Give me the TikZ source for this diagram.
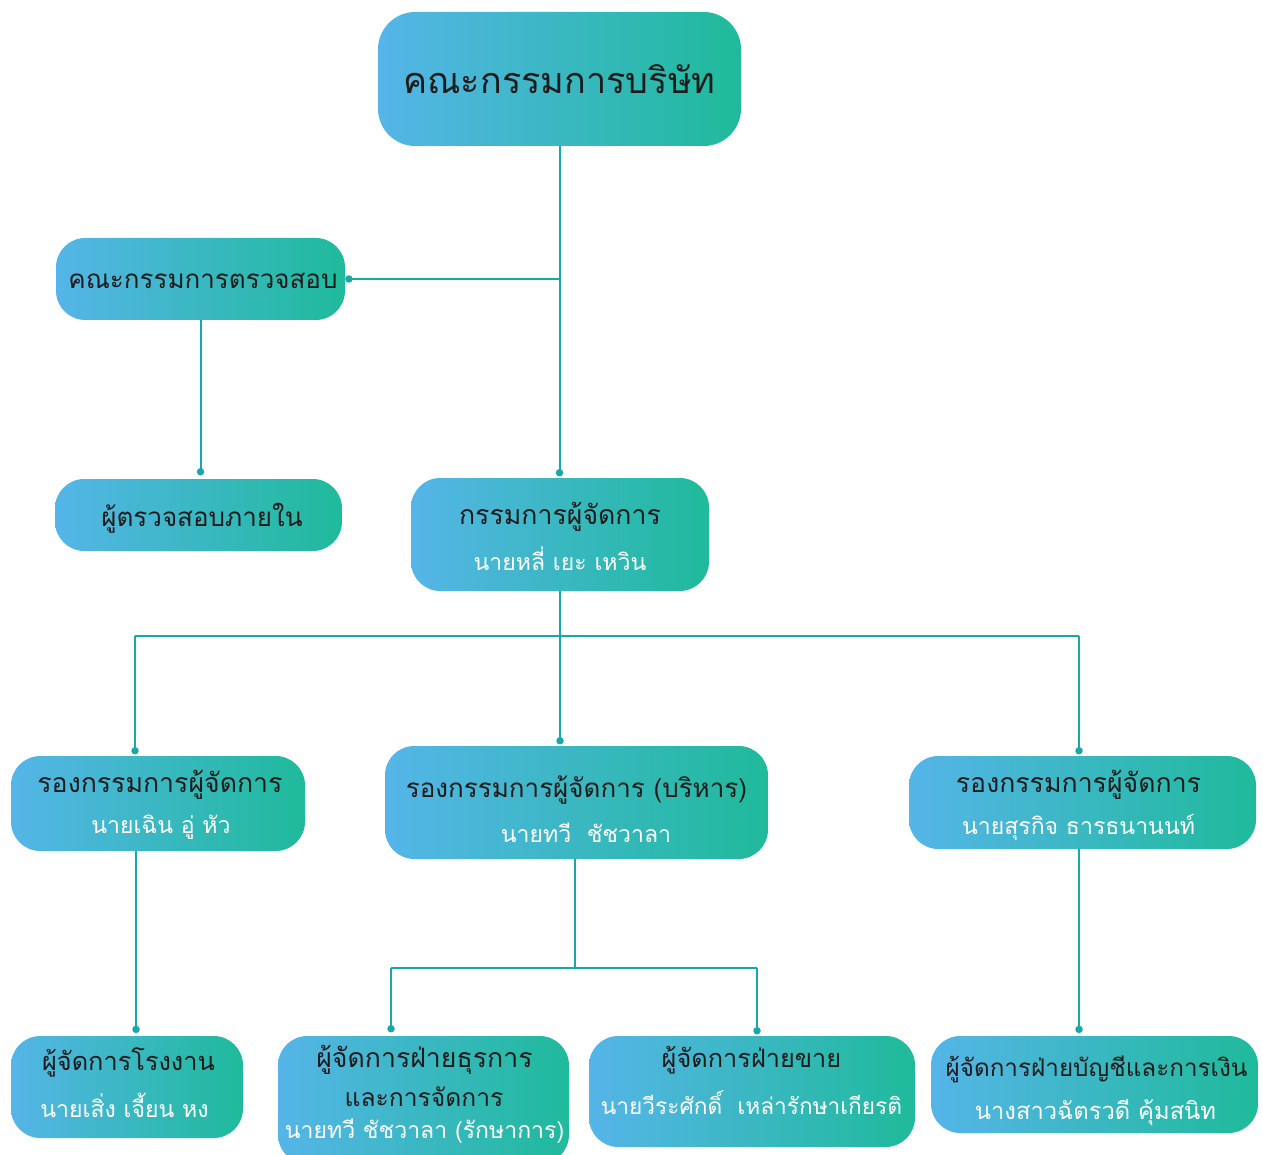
\documentclass[tikz,border=0pt]{standalone}
\usepackage{fontspec}
\setmainfont[Script=Thai]{Loma}
\usetikzlibrary{arrows.meta,calc}
\definecolor{gradL}{HTML}{55B5E8}
\definecolor{gradR}{HTML}{1FBA9B}
\definecolor{linec}{HTML}{18A8AB}
\definecolor{titlec}{HTML}{1E1B1C}
\newcommand{\fsz}[1]{\fontsize{#1}{#1}\selectfont}
\tikzset{
  box/.style={rectangle, rounded corners=22pt, left color=gradL, right color=gradR, shading angle=90, draw=none, inner sep=0pt},
  conn/.style={draw=linec, line width=1.5pt},
  dotend/.style={conn, -{Circle[length=5.5pt, width=5.5pt]}},
  ttl/.style={text=titlec, font=\fsz{19.5}, inner sep=0pt},
  nme/.style={text=white, font=\fsz{17.3}, inner sep=0pt},
}
\begin{document}
\begin{tikzpicture}[x=0.75pt,y=-0.75pt]
\useasboundingbox[fill=white] (0,0) rectangle (1263,1155);
% boxes
\node[box, rounded corners=28pt, minimum width=363*0.75pt, minimum height=134*0.75pt] (board) at (559.5,79) {};
\node[box, minimum width=289*0.75pt, minimum height=82*0.75pt] (audit) at (200.5,279) {};
\node[box, minimum width=287*0.75pt, minimum height=72*0.75pt] (internal) at (198.5,515) {};
\node[box, minimum width=298*0.75pt, minimum height=113*0.75pt] (md) at (560,534.5) {};
\node[box, minimum width=294*0.75pt, minimum height=95*0.75pt] (vpa) at (158,803.5) {};
\node[box, minimum width=383*0.75pt, minimum height=113*0.75pt] (vpb) at (576.5,802.5) {};
\node[box, minimum width=347*0.75pt, minimum height=93*0.75pt] (vpc) at (1082.5,802.5) {};
\node[box, minimum width=232*0.75pt, minimum height=102*0.75pt] (factory) at (127,1087) {};
\node[box, minimum width=291*0.75pt, minimum height=128*0.75pt] (admin) at (423.5,1100) {};
\node[box, minimum width=326*0.75pt, minimum height=111*0.75pt] (sales) at (752,1091.5) {};
\node[box, minimum width=327*0.75pt, minimum height=97*0.75pt] (acct) at (1094.5,1084.5) {};
% texts
\node[ttl, font=\fsz{27}] (boardT) at (559.5,79) {คณะกรรมการบริษัท};
\node[ttl] (auditT) at (203,281) {คณะกรรมการตรวจสอบ};
\node[ttl] (internalT) at (202,518) {ผู้ตรวจสอบภายใน};
\node[ttl, font=\fsz{20}] (mdT) at (560,517) {กรรมการผู้จัดการ};
\node[nme] (mdN) at (560,559) {นายหลี่ เยะ เหวิน};
\node[ttl, font=\fsz{20}] (vpaT) at (160,785) {รองกรรมการผู้จัดการ};
\node[nme] (vpaN) at (161,827) {นายเฉิน อู่ หัว};
\node[ttl] (vpbT) at (576.5,790) {รองกรรมการผู้จัดการ (บริหาร)};
\node[nme] (vpbN) at (586,833) {นายทวี \ ชัชวาลา};
\node[ttl, font=\fsz{20}] (vpcT) at (1078.5,785) {รองกรรมการผู้จัดการ};
\node[nme] (vpcN) at (1078.5,827) {นายสุรกิจ ธารธนานนท์};
\node[ttl, font=\fsz{19}] (factoryT) at (128.5,1062) {ผู้จัดการโรงงาน};
\node[nme] (factoryN) at (124.5,1105) {นายเสิ่ง เจี้ยน หง};
\node[ttl, font=\fsz{20}] (adminT) at (424.5,1060) {ผู้จัดการฝ่ายธุรการ};
\node[ttl, font=\fsz{18.5}] (adminT2) at (424,1097) {และการจัดการ};
\node[nme] (adminN) at (424.5,1131) {นายทวี ชัชวาลา (รักษาการ)};
\node[ttl, font=\fsz{19}] (salesT) at (751.5,1060) {ผู้จัดการฝ่ายขาย};
\node[nme, font=\fsz{17}] (salesN) at (751.5,1103) {นายวีระศักดิ์ \ เหล่ารักษาเกียรติ};
\node[ttl, font=\fsz{18.2}] (acctT) at (1096.5,1069) {ผู้จัดการฝ่ายบัญชีและการเงิน};
\node[nme, font=\fsz{17.8}] (acctN) at (1095.5,1113) {นางสาวฉัตรวดี คุ้มสนิท};
% junctions
\coordinate (jAudit) at (board.south |- audit.east);
\coordinate (jMD) at ($(md.south)+(0,45)$);
\coordinate (jL) at (135,636);
\coordinate (jR) at (1079,636);
\coordinate (jB) at ($(vpb.south)+(-1.5,109)$);
\coordinate (jB1) at (391,968);
\coordinate (jB2) at (757,968);
% connectors
\draw[dotend, shorten >=1pt] (board.south) -- (board.south |- md.north);
\draw[dotend] (jAudit) -- (audit.east);
\draw[dotend, shorten >=2.5pt] (audit.south) -- (audit.south |- internal.north);
\draw[conn] (md.south) -- (jMD);
\draw[conn] (jL) -- (jR);
\draw[dotend, shorten >=1pt] (jL) -- (jL |- vpa.north);
\draw[dotend, shorten >=1pt] (jMD) -- (jMD |- vpb.north);
\draw[dotend, shorten >=1pt] (jR) -- (jR |- vpc.north);
\draw[dotend, shorten >=2pt] (vpa.south -| 136,0) -- (136,0 |- factory.north);
\draw[conn] (vpb.south -| jB) -- (jB);
\draw[conn] (jB1) -- (jB2);
\draw[dotend, shorten >=2.5pt] (jB1) -- (jB1 |- admin.north);
\draw[dotend, shorten >=1pt] (jB2) -- (jB2 |- sales.north);
\draw[dotend, shorten >=2pt] (vpc.south -| jR) -- (jR |- acct.north);
\end{tikzpicture}
\end{document}
